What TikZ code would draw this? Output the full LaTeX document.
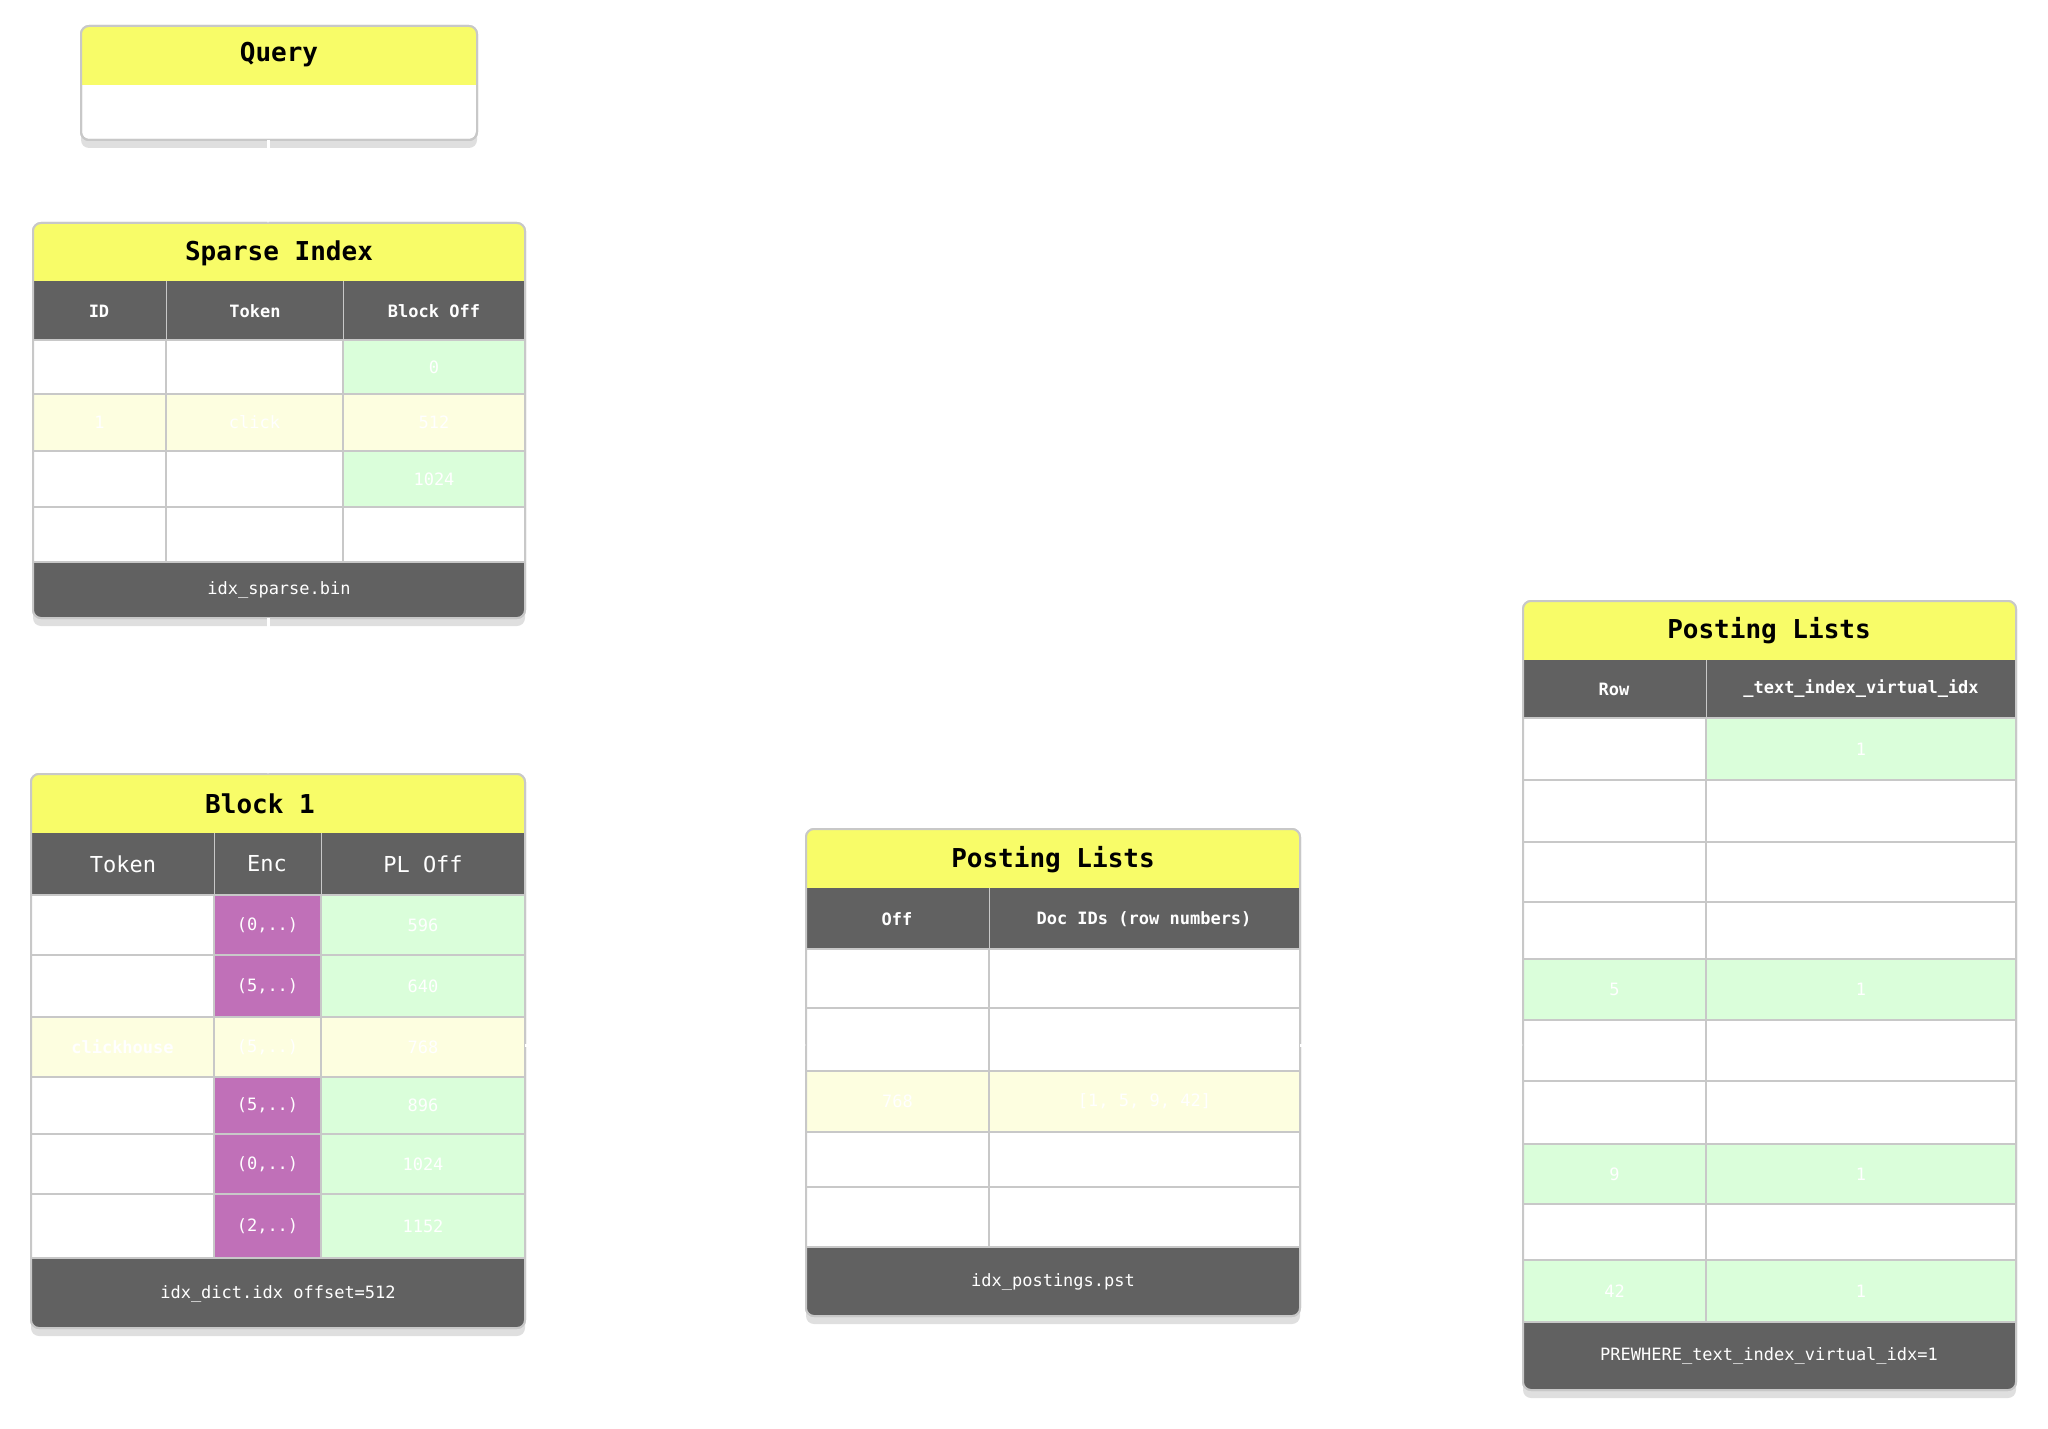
\documentclass[tikz,border=0pt]{standalone}
\usepackage{fontspec}
\setmonofont{DejaVu Sans Mono}
\usetikzlibrary{shadows,arrows.meta}
\definecolor{ttl}{HTML}{F8FC68}
\definecolor{hdr}{HTML}{616161}
\definecolor{grn}{HTML}{DAFEDA}
\definecolor{pyl}{HTML}{FDFEE0}
\definecolor{pur}{HTML}{C070B8}
\definecolor{grd}{HTML}{C8C8C8}
\tikzset{
  box/.style={draw=grd,line width=1pt,rounded corners=4pt,fill=white,drop shadow={opacity=0.25,shadow xshift=0pt,shadow yshift=-4pt}},
  ttltxt/.style={font=\ttfamily\bfseries\fontsize{13}{15}\selectfont,text=black},
  hdrtxt/.style={font=\ttfamily\bfseries\fontsize{8.5}{10}\selectfont,text=white},
  celltxt/.style={font=\ttfamily\fontsize{8.5}{10}\selectfont,text=white},
  foottxt/.style={font=\ttfamily\fontsize{8.5}{10}\selectfont,text=white},
  arr/.style={draw=white,line width=1.5pt,-{Stealth[length=8pt]}},
  lbl/.style={font=\sffamily\fontsize{9}{11}\selectfont,text=white,align=center}
}
\newcommand{\cellbox}[6]{\fill[#5] (#1,#2) rectangle (#3,#4); \draw[grd,line width=0.8pt] (#1,#2) rectangle (#3,#4); \path (#1,#2) -- node[celltxt] {#6} (#3,#4);}
\begin{document}
\begin{tikzpicture}[x=0.5pt,y=-0.5pt]
\useasboundingbox (0,0) rectangle (2048,1428);
% ---------- Query
\path[box] (81,26) rectangle (477,140);
\begin{scope}
\clip[rounded corners=4pt] (81,26) rectangle (477,140);
\fill[ttl] (81,26) rectangle (477,85);
\end{scope}
\draw[grd,line width=1pt,rounded corners=4pt] (81,26) rectangle (477,140);
\node[ttltxt] (qt) at (279,55) {Query};
\node[lbl,font=\ttfamily\fontsize{9}{11}\selectfont] (qb) at (279,112) {hasToken(body, 'clickhouse')};
\coordinate (qbot) at (268,140);
% ---------- Sparse Index
\path[box] (33,223) rectangle (525,618);
\begin{scope}
\clip[rounded corners=4pt] (33,223) rectangle (525,618);
\fill[ttl] (33,223) rectangle (525,281);
\fill[hdr] (33,281) rectangle (525,340);
\fill[hdr] (33,562) rectangle (525,618);
\cellbox{33}{340}{166}{394}{white}{0}
\cellbox{166}{340}{343}{394}{white}{battery}
\cellbox{343}{340}{525}{394}{grn}{0}
\cellbox{33}{394}{166}{451}{pyl}{1}
\cellbox{166}{394}{343}{451}{pyl}{click}
\cellbox{343}{394}{525}{451}{pyl}{512}
\cellbox{33}{451}{166}{507}{white}{2}
\cellbox{166}{451}{343}{507}{white}{database}
\cellbox{343}{451}{525}{507}{grn}{1024}
\cellbox{33}{507}{166}{562}{white}{...}
\cellbox{166}{507}{343}{562}{white}{...}
\cellbox{343}{507}{525}{562}{white}{...}
\end{scope}
\draw[grd,line width=1pt,rounded corners=4pt] (33,223) rectangle (525,618);
\draw[grd] (166,281) -- (166,340) (343,281) -- (343,340);
\node[ttltxt] (st) at (279,253) {Sparse Index};
\node[hdrtxt] at (99,311) {ID};
\node[hdrtxt] at (255,311) {Token};
\node[hdrtxt] at (434,311) {Block Off};
\node[foottxt] (sf) at (279,590) {idx\_sparse.bin};
\coordinate (stop) at (268,223);
\coordinate (sbot) at (268,618);
% ---------- Block 1
\path[box] (31,774) rectangle (525,1328);
\begin{scope}
\clip[rounded corners=4pt] (31,774) rectangle (525,1328);
\fill[ttl] (31,774) rectangle (525,833);
\fill[hdr] (31,833) rectangle (525,895);
\fill[hdr] (31,1258) rectangle (525,1328);
\cellbox{31}{895}{214}{955}{white}{click}
\cellbox{214}{895}{321}{955}{pur}{(0,..)}
\cellbox{321}{895}{525}{955}{grn}{596}
\cellbox{31}{955}{214}{1017}{white}{clickbench}
\cellbox{214}{955}{321}{1017}{pur}{(5,..)}
\cellbox{321}{955}{525}{1017}{grn}{640}
\cellbox{31}{1017}{214}{1077}{pyl}{\bfseries clickhouse}
\cellbox{214}{1017}{321}{1077}{pyl}{(5,..)}
\cellbox{321}{1017}{525}{1077}{pyl}{768}
\cellbox{31}{1077}{214}{1134}{white}{clickstream}
\cellbox{214}{1077}{321}{1134}{pur}{(5,..)}
\cellbox{321}{1077}{525}{1134}{grn}{896}
\cellbox{31}{1134}{214}{1194}{white}{cloud}
\cellbox{214}{1134}{321}{1194}{pur}{(0,..)}
\cellbox{321}{1134}{525}{1194}{grn}{1024}
\cellbox{31}{1194}{214}{1258}{white}{cluster}
\cellbox{214}{1194}{321}{1258}{pur}{(2,..)}
\cellbox{321}{1194}{525}{1258}{grn}{1152}
\end{scope}
\draw[grd,line width=1pt,rounded corners=4pt] (31,774) rectangle (525,1328);
\draw[grd] (214,833) -- (214,895) (321,833) -- (321,895);
\node[ttltxt] (bt) at (260,804) {Block 1};
\node[hdrtxt,font=\ttfamily\fontsize{11}{13}\selectfont] at (123,864) {Token};
\node[hdrtxt,font=\ttfamily\fontsize{11}{13}\selectfont] at (267,864) {Enc};
\node[hdrtxt,font=\ttfamily\fontsize{11}{13}\selectfont] at (423,864) {PL Off};
\node[foottxt] (bf) at (278,1294) {idx\_dict.idx offset=512};
\coordinate (btop) at (268,774);
\coordinate (bright) at (525,1045);
% ---------- Posting Lists (middle)
\path[box] (806,829) rectangle (1300,1316);
\begin{scope}
\clip[rounded corners=4pt] (806,829) rectangle (1300,1316);
\fill[ttl] (806,829) rectangle (1300,888);
\fill[hdr] (806,888) rectangle (1300,949);
\fill[hdr] (806,1247) rectangle (1300,1316);
\cellbox{806}{949}{989}{1008}{white}{596}
\cellbox{989}{949}{1300}{1008}{white}{[3, 11, 24]}
\cellbox{806}{1008}{989}{1071}{white}{640}
\cellbox{989}{1008}{1300}{1071}{white}{[3]}
\cellbox{806}{1071}{989}{1132}{pyl}{768}
\cellbox{989}{1071}{1300}{1132}{pyl}{[1, 5, 9, 42]}
\cellbox{806}{1132}{989}{1187}{white}{896}
\cellbox{989}{1132}{1300}{1187}{white}{[7]}
\cellbox{806}{1187}{989}{1247}{white}{...}
\cellbox{989}{1187}{1300}{1247}{white}{...}
\end{scope}
\draw[grd,line width=1pt,rounded corners=4pt] (806,829) rectangle (1300,1316);
\draw[grd] (989,888) -- (989,949);
\node[ttltxt] (pt) at (1053,860) {Posting Lists};
\node[hdrtxt] at (897,919) {Off};
\node[hdrtxt] at (1144,919) {Doc IDs (row numbers)};
\node[foottxt] (pf) at (1053,1282) {idx\_postings.pst};
\coordinate (pleft) at (806,1045);
\coordinate (pright) at (1300,1045);
% ---------- Posting Lists (right)
\path[box] (1523,601) rectangle (2016,1390);
\begin{scope}
\clip[rounded corners=4pt] (1523,601) rectangle (2016,1390);
\fill[ttl] (1523,601) rectangle (2016,660);
\fill[hdr] (1523,660) rectangle (2016,718);
\fill[hdr] (1523,1322) rectangle (2016,1390);
\cellbox{1523}{718}{1706}{780}{white}{1}
\cellbox{1706}{718}{2016}{780}{grn}{1}
\cellbox{1523}{780}{1706}{842}{white}{2}
\cellbox{1706}{780}{2016}{842}{white}{0}
\cellbox{1523}{842}{1706}{902}{white}{3}
\cellbox{1706}{842}{2016}{902}{white}{0}
\cellbox{1523}{902}{1706}{959}{white}{4}
\cellbox{1706}{902}{2016}{959}{white}{0}
\cellbox{1523}{959}{1706}{1020}{grn}{5}
\cellbox{1706}{959}{2016}{1020}{grn}{1}
\cellbox{1523}{1020}{1706}{1081}{white}{6}
\cellbox{1706}{1020}{2016}{1081}{white}{0}
\cellbox{1523}{1081}{1706}{1144}{white}{...}
\cellbox{1706}{1081}{2016}{1144}{white}{...}
\cellbox{1523}{1144}{1706}{1204}{grn}{9}
\cellbox{1706}{1144}{2016}{1204}{grn}{1}
\cellbox{1523}{1204}{1706}{1260}{white}{...}
\cellbox{1706}{1204}{2016}{1260}{white}{...}
\cellbox{1523}{1260}{1706}{1322}{grn}{42}
\cellbox{1706}{1260}{2016}{1322}{grn}{1}
\end{scope}
\draw[grd,line width=1pt,rounded corners=4pt] (1523,601) rectangle (2016,1390);
\draw[grd] (1706,660) -- (1706,718);
\node[ttltxt] (rt) at (1769,631) {Posting Lists};
\node[hdrtxt] at (1614,689) {Row};
\node[hdrtxt] at (1861,689) {\_text\_index\_virtual\_idx};
\node[foottxt] (rf) at (1769,1356) {PREWHERE\_text\_index\_virtual\_idx=1};
\coordinate (rleft) at (1523,1045);
% ---------- connectors
\draw[arr] (qbot) -- (stop);
\draw[arr] (sbot) -- node[lbl,right,xshift=8pt] (l1) {offset=512\\(sequential read)} (btop);
\draw[arr] (bright) -- node[lbl,below,yshift=-8pt] (l2) {PL Off=768} (pleft);
\draw[arr] (pright) -- node[lbl,below,yshift=-6pt] (l3) {set matching\\rows to 1} (rleft);
\end{tikzpicture}
\end{document}
